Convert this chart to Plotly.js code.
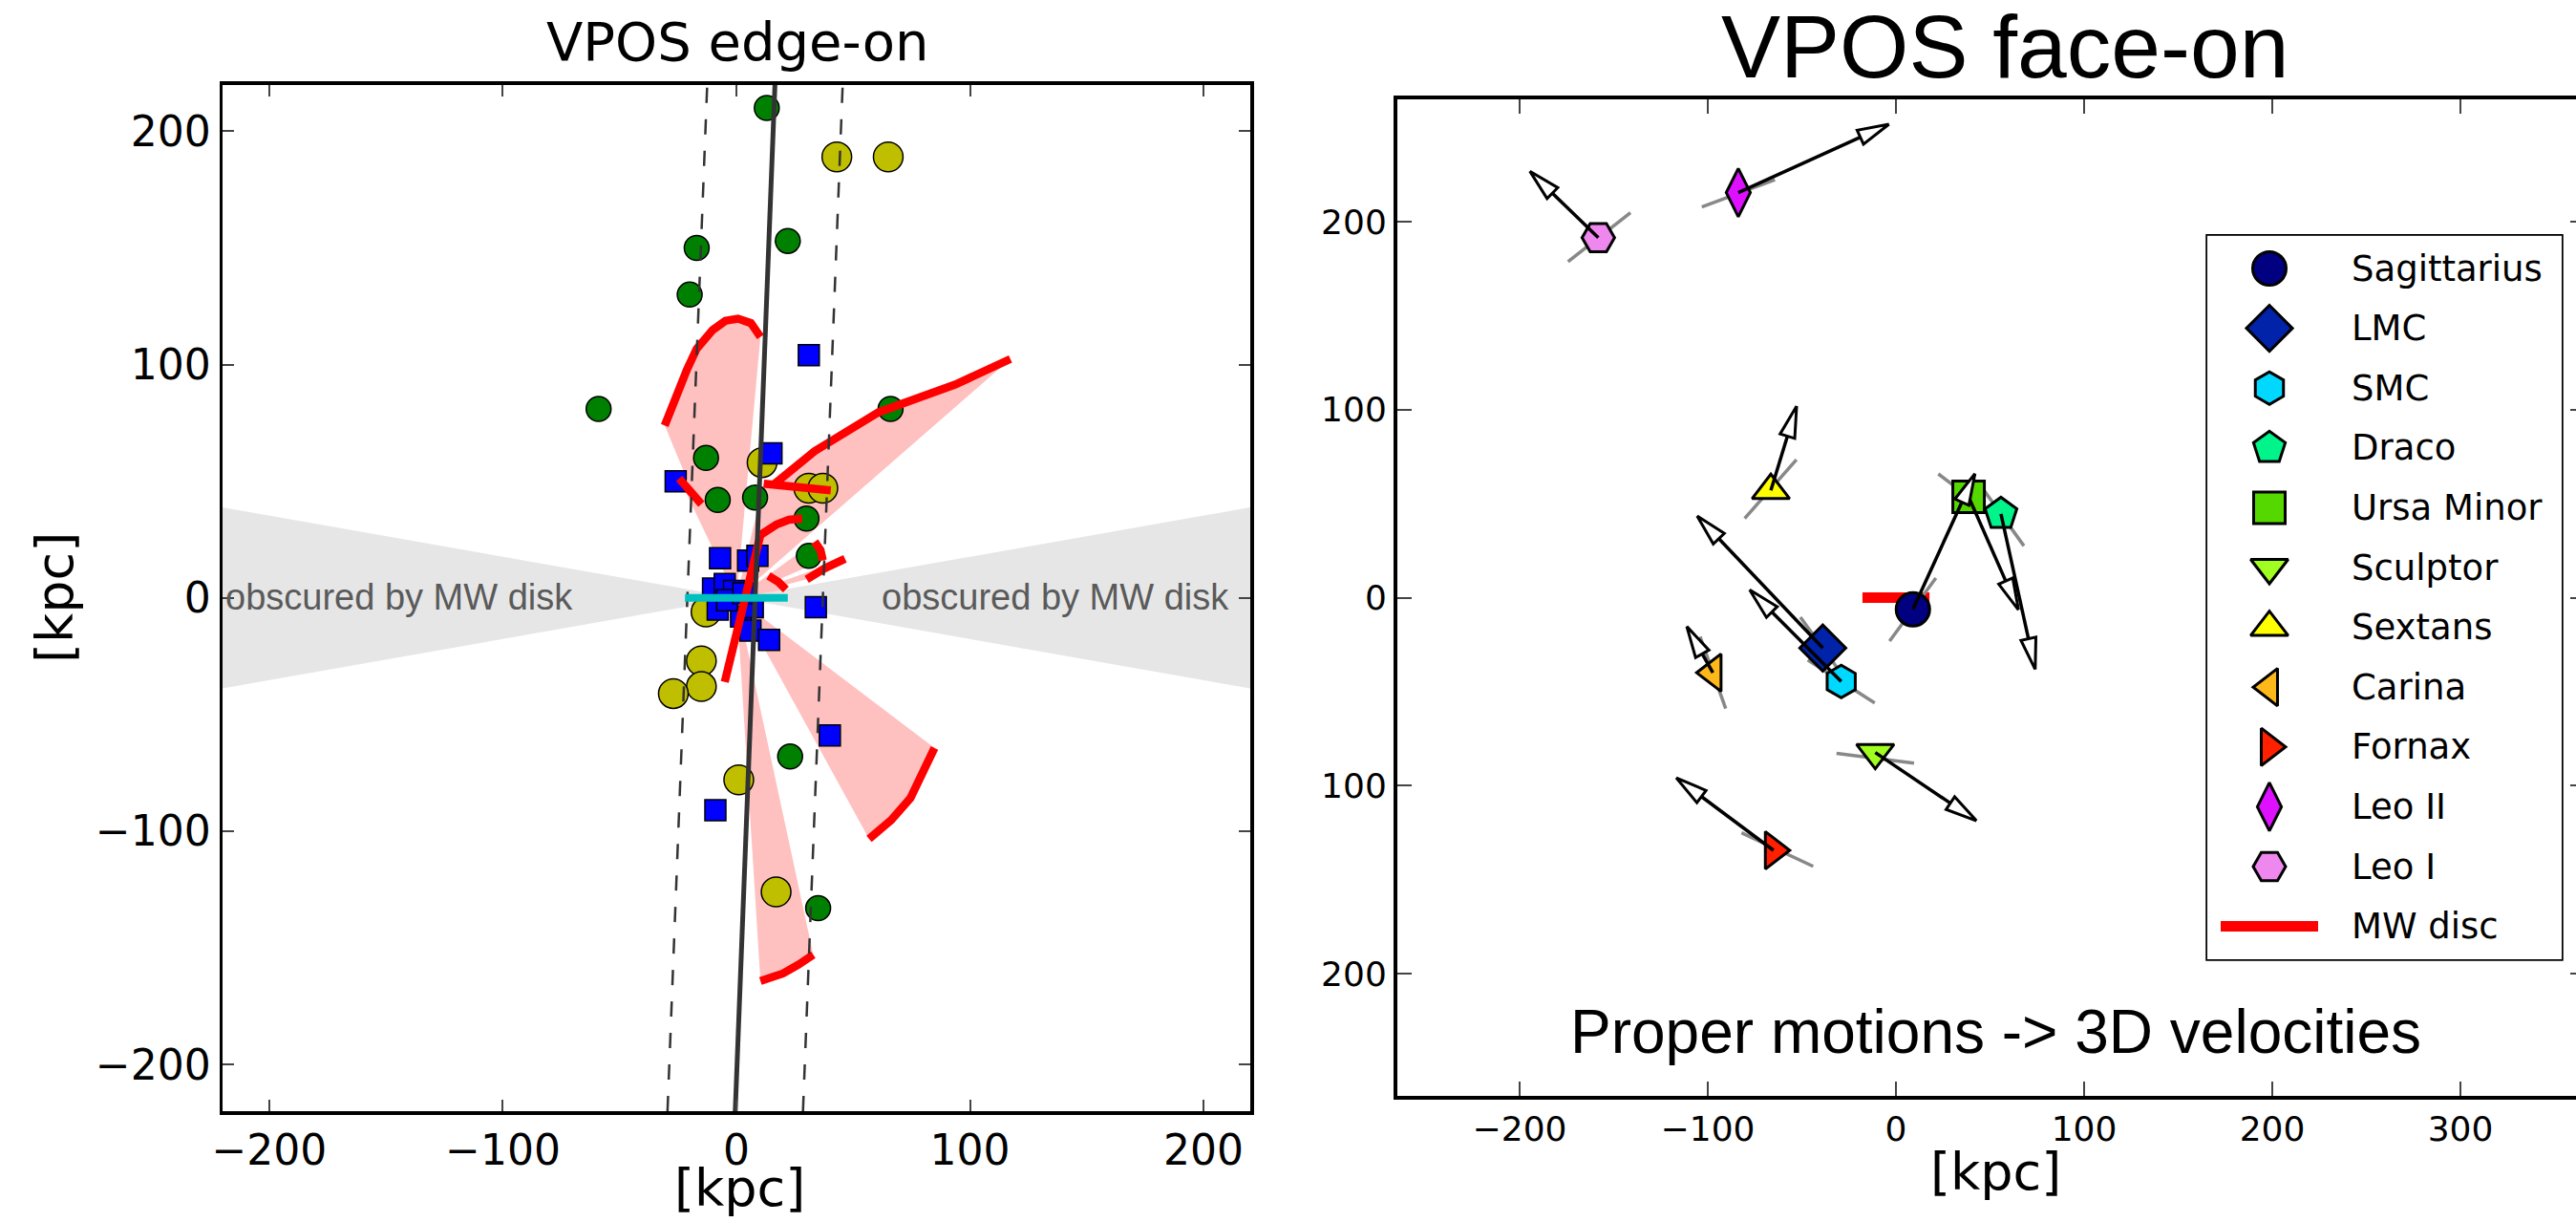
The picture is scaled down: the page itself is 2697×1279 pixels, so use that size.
<!DOCTYPE html>
<html><head><meta charset="utf-8">
<script src="https://cdn.plot.ly/plotly-3.0.1.min.js"></script>
<style>html,body{margin:0;padding:0;overflow:hidden;background:#fff;width:2697px;height:1279px}</style>
</head><body><div id="chart" style="width:2706px;height:1279px"></div>
<script>
// ================= DATA : left panel (VPOS edge-on), kpc =================
const greenX  = [13, -17, 22, -20, -59, 66, -13, -8, 8, 30, 31, 23, 35];
const greenY  = [210, 150, 153, 130, 81, 81, 60, 42, 43, 34, 18, -68, -133];
const yellowX = [43, 65, 11, 31, 37, -13, -15, -15, -27, 1, 17];
const yellowY = [189, 189, 58, 47, 47, -6, -27, -38, -41, -78, -126];
const blueX   = [31, 15, -26, -7, 5, 9, -10, -5, -1, -8, 2, 7, 6, 14, 34, 40, -9, -4, 3];
const blueY   = [104, 62, 50, 17, 16, 18, 4, 6, 3, -5, -8, -4, -14, -18, -4, -59, -91, -1, 2];

// best-fit plane (solid) and its rms width (dashed)
const planeX = [-0.5, 16.5];
const planeY = [-220, 220];
const planeRms = 29;

// MW disc edge-on
const discX = [-22, 22];
const discY = [0, 0];

// obscured zone half opening angle (deg)
const obscuredAngle = 10;

// uncertainty cones: red arcs (end of each cone), cone apex at origin
const arcAX = [-30.7, -25.9, -21.1, -17, -10.2, -4.7, 0.7, 6.2, 10.3];
const arcAY = [73.9, 87, 98, 106.8, 114.8, 118.8, 119.7, 117.8, 111.9];
const arcBX = [84.8, 80, 74.5, 66.3, 56.8];
const arcBY = [-64.3, -74.8, -85.8, -95.2, -103.3];
const arcCX = [10.3, 19.9, 26.7, 32.9];
const arcCY = [-164.2, -161, -157.1, -152.9];
const arcDX = [16.5, 33.5, 60.9, 93.6, 117.3];
const arcDY = [49, 62.9, 79.6, 91.4, 102.4];
const arcEX = [-24.5, -19.5, -15];
const arcEY = [51.2, 46, 40.2];
const arcFX = [11.7, 25, 40.4];
const arcFY = [49, 47.6, 46.1];
const arcGX = [10.3, 17.1, 22.5, 28.1];
const arcGY = [27, 31.4, 33.5, 34];
const arcHX = [33.5, 36, 37];
const arcHY = [24.1, 20.5, 16.1];
const arcIX = [30.1, 38, 46.5];
const arcIY = [8, 12.8, 16.8];
const arcJX = [13.7, 18, 21.2];
const arcJY = [9.5, 6.8, 3.6];
// red line seen edge-on (no cone)
const edgeLineX = [-5, 10.3];
const edgeLineY = [-36, 27];

// ================= DATA : right panel (VPOS face-on), kpc =================
const galaxies = ['Sagittarius', 'LMC', 'SMC', 'Draco', 'Ursa Minor', 'Sculptor', 'Sextans', 'Carina', 'Fornax', 'Leo II', 'Leo I'];
const galX   = [9, -38.9, -29.1, 55.8, 38.6, -11, -66.5, -97.3, -65.1, -83.8, -158.2];
const galY   = [-6.2, -26.8, -44.6, 44.5, 53.6, -82.4, 57, -39.9, -134.4, 215.4, 191.4];
const velTipX = [42, -105.7, -77.8, 74, 65.1, 42.8, -52.8, -111.2, -116.8, -3.7, -194.6];
const velTipY = [66, 43.5, 4.2, -38.2, -6.5, -118.7, 101.9, -15.3, -95.8, 251.8, 226.8];
const errX0 = [-3.4, -50.8, -46.9, 43.6, 22.5, -31.6, -80.4, -104.1, -82.1, -103.2, -174.3];
const errY0 = [-23.1, -10.4, -33.2, 61.5, 65.8, -82.8, 42.1, -20.8, -125.1, 207.8, 178.7];
const errX1 = [21.2, -27, -11.3, 68, 54.7, 9.6, -52.9, -90.5, -44, -64.3, -141.1];
const errY1 = [10.4, -43.2, -56, 27.5, 41.4, -88, 73.4, -59, -142.9, 222.2, 204.7];
const mwDiscFaceX = [-17.8, 17.8];
const mwDiscFaceY = [0, 0];
const xTicksR = [-200, -100, 0, 100, 200, 300];
const yTicksR = [-200, -100, 0, 100, 200];
const yTickTextR = ['200', '100', '0', '100', '200'];
const ticksL = [-200, -100, 0, 100, 200];

// ================= STYLE =================
const galSymbols = ['circle', 'diamond', 'hexagon', 'pentagon', 'square', 'triangle-down', 'triangle-up', 'triangle-left', 'triangle-right', 'diamond-tall', 'hexagon2'];
const galColors  = ['#000080', '#0023aa', '#00d8ff', '#00f48a', '#55d800', '#a0ff20', '#ffff00', '#ffb81a', '#ff2000', '#dd11ff', '#ee88ee'];
const galSizes   = [35, 37, 34, 35, 33, 34, 34, 34, 34, 36, 34];

const W = 2706, H = 1279;
const fx = v => v / W;
const fy = v => 1 - v / H;
const DJ = 'DejaVu Sans';
const LS = 'Liberation Sans, Arial, sans-serif';

const traces = [];

// ---- left panel ----
const t = Math.tan(obscuredAngle * Math.PI / 180);
const R = 220;
traces.push({x: [-R, 0, -R, null, R, 0, R], y: [R * t, 0, -R * t, null, R * t, 0, -R * t],
  mode: 'lines', fill: 'toself', fillcolor: '#e6e6e6', line: {width: 0}, xaxis: 'x', yaxis: 'y', hoverinfo: 'skip'});

const cones = [[arcAX, arcAY], [arcBX, arcBY], [arcCX, arcCY], [arcDX, arcDY], [arcEX, arcEY], [arcFX, arcFY], [arcGX, arcGY], [arcHX, arcHY], [arcIX, arcIY], [arcJX, arcJY]];
cones.forEach(([ax, ay]) => {
  traces.push({x: [0].concat(ax, [0]), y: [0].concat(ay, [0]), mode: 'lines', fill: 'toself',
    fillcolor: '#ffc0c0', line: {width: 0}, xaxis: 'x', yaxis: 'y', hoverinfo: 'skip'});
});

traces.push({x: yellowX, y: yellowY, mode: 'markers', xaxis: 'x', yaxis: 'y',
  marker: {symbol: 'circle', size: 31, opacity: 1, color: '#bfbf00', line: {color: '#000', width: 1.5}}});
traces.push({x: greenX, y: greenY, mode: 'markers', xaxis: 'x', yaxis: 'y',
  marker: {symbol: 'circle', size: 26, opacity: 1, color: '#008000', line: {color: '#000', width: 1.5}}});
traces.push({x: blueX, y: blueY, mode: 'markers', xaxis: 'x', yaxis: 'y',
  marker: {symbol: 'square', size: 22, opacity: 1, color: '#0000ff', line: {color: '#000', width: 1.5}}});

cones.forEach(([ax, ay]) => {
  traces.push({x: ax, y: ay, mode: 'lines', line: {color: '#ff0000', width: 8.5}, xaxis: 'x', yaxis: 'y', hoverinfo: 'skip'});
});
traces.push({x: edgeLineX, y: edgeLineY, mode: 'lines', line: {color: '#ff0000', width: 8.5}, xaxis: 'x', yaxis: 'y'});

traces.push({x: planeX.map(v => v - planeRms), y: planeY, mode: 'lines', xaxis: 'x', yaxis: 'y',
  line: {color: '#333', width: 2.5, dash: '16px,17px'}});
traces.push({x: planeX.map(v => v + planeRms), y: planeY, mode: 'lines', xaxis: 'x', yaxis: 'y',
  line: {color: '#333', width: 2.5, dash: '16px,17px'}});
traces.push({x: planeX, y: planeY, mode: 'lines', xaxis: 'x', yaxis: 'y', line: {color: '#333', width: 5}});
traces.push({x: discX, y: discY, mode: 'lines', xaxis: 'x', yaxis: 'y', line: {color: '#00bfbf', width: 8}});

// ---- right panel ----
traces.push({x: mwDiscFaceX, y: mwDiscFaceY, mode: 'lines', xaxis: 'x2', yaxis: 'y2', line: {color: '#ff0000', width: 11}});
const ex = [], ey = [];
galaxies.forEach((g, i) => { ex.push(errX0[i], errX1[i], null); ey.push(errY0[i], errY1[i], null); });
traces.push({x: ex, y: ey, mode: 'lines', xaxis: 'x2', yaxis: 'y2', line: {color: '#888', width: 3.5}});
traces.push({x: galX, y: galY, text: galaxies, mode: 'markers', xaxis: 'x2', yaxis: 'y2',
  marker: {symbol: galSymbols, color: galColors, size: galSizes, opacity: 1, line: {color: '#000', width: 3}}});

const pxPerKpc = 1.97;
const headL = 33 / pxPerKpc, headW = 8 / pxPerKpc;
const sx = [], sy = [], hx = [], hy = [];
galaxies.forEach((g, i) => {
  const x0 = galX[i], y0 = galY[i], x1 = velTipX[i], y1 = velTipY[i];
  const d = Math.hypot(x1 - x0, y1 - y0), ux = (x1 - x0) / d, uy = (y1 - y0) / d;
  const bx = x1 - headL * ux, by = y1 - headL * uy;
  sx.push(x0, bx, null); sy.push(y0, by, null);
  hx.push(x1, bx - headW * uy, bx + headW * uy, x1, null);
  hy.push(y1, by + headW * ux, by - headW * ux, y1, null);
});
traces.push({x: sx, y: sy, mode: 'lines', xaxis: 'x2', yaxis: 'y2', line: {color: '#000', width: 3.5}});
traces.push({x: hx, y: hy, mode: 'lines', fill: 'toself', fillcolor: '#fff', xaxis: 'x2', yaxis: 'y2',
  line: {color: '#000', width: 3}});

// ---- legend (drawn on its own axes) ----
const legTop = 246.8, legBottom = 1004, legLeft = 2311, legRight = 2682;
const rowFirst = 34.2, rowStep = 62.6, legMarkX = 65, legTextX = 149;
const rowY = galaxies.map((g, i) => rowFirst + i * rowStep);
traces.push({x: galaxies.map(() => legMarkX), y: rowY, mode: 'markers', xaxis: 'x3', yaxis: 'y3',
  marker: {symbol: galSymbols, color: galColors, size: galSizes, opacity: 1, line: {color: '#000', width: 3}}});
const discRow = rowFirst + galaxies.length * rowStep;
traces.push({x: [14, 116], y: [discRow, discRow], mode: 'lines', xaxis: 'x3', yaxis: 'y3', line: {color: '#ff0000', width: 11}});

const annotations = [
  {text: 'VPOS edge-on', x: fx(772), y: fy(44), xref: 'paper', yref: 'paper', showarrow: false, xanchor: 'center', yanchor: 'middle', font: {family: DJ, size: 56, color: '#000'}},
  {text: 'VPOS face-on', x: fx(2099), y: fy(49), xref: 'paper', yref: 'paper', showarrow: false, xanchor: 'center', yanchor: 'middle', font: {family: LS, size: 93, color: '#000'}},
  {text: 'Proper motions -&gt; 3D velocities', x: fx(2089), y: fy(1080), xref: 'paper', yref: 'paper', showarrow: false, xanchor: 'center', yanchor: 'middle', font: {family: LS, size: 64, color: '#000'}},
  {text: '[kpc]', x: fx(775), y: fy(1243), xref: 'paper', yref: 'paper', showarrow: false, xanchor: 'center', yanchor: 'middle', font: {family: DJ, size: 54, color: '#000'}},
  {text: '[kpc]', x: fx(57), y: fy(626), xref: 'paper', yref: 'paper', showarrow: false, textangle: -90, xanchor: 'center', yanchor: 'middle', font: {family: DJ, size: 54, color: '#000'}},
  {text: '[kpc]', x: fx(2089), y: fy(1226), xref: 'paper', yref: 'paper', showarrow: false, xanchor: 'center', yanchor: 'middle', font: {family: DJ, size: 54, color: '#000'}},
  {text: 'obscured by MW disk', x: -144.5, y: 0.5, xref: 'x', yref: 'y', showarrow: false, xanchor: 'center', yanchor: 'middle', font: {family: LS, size: 38, color: '#5a5a5a'}},
  {text: 'obscured by MW disk', x: 136.5, y: 0.5, xref: 'x', yref: 'y', showarrow: false, xanchor: 'center', yanchor: 'middle', font: {family: LS, size: 38, color: '#5a5a5a'}}
];
galaxies.concat(['MW disc']).forEach((g, i) => {
  annotations.push({text: g, x: legTextX, y: rowFirst + i * rowStep, xref: 'x3', yref: 'y3', showarrow: false,
    xanchor: 'left', yanchor: 'middle', font: {family: DJ, size: 37, color: '#000'}});
});

const axBase = {showline: true, linecolor: '#000', mirror: 'allticks', ticks: 'inside', tickcolor: '#444',
  tickwidth: 2, showgrid: false, zeroline: false, fixedrange: true};

const layout = {
  width: W, height: H, autosize: false, showlegend: false, hovermode: false,
  margin: {l: 0, r: 0, t: 0, b: 0, pad: 0},
  paper_bgcolor: '#fff', plot_bgcolor: '#fff',
  xaxis: Object.assign({}, axBase, {domain: [fx(233), fx(1309)], range: [-220, 220], anchor: 'y', linewidth: 3.5, ticklen: 12,
    tickvals: ticksL, tickfont: {family: DJ, size: 44, color: '#000'}}),
  yaxis: Object.assign({}, axBase, {domain: [fy(1163), fy(88.6)], range: [-220, 220], anchor: 'x', linewidth: 3.5, ticklen: 12,
    tickvals: ticksL, tickfont: {family: DJ, size: 44, color: '#000'}}),
  xaxis2: Object.assign({}, axBase, {domain: [fx(1463), 1], range: [-265, (W - 1985) / pxPerKpc], anchor: 'y2', linewidth: 4, ticklen: 15,
    tickvals: xTicksR, tickfont: {family: DJ, size: 36, color: '#000'}}),
  yaxis2: Object.assign({}, axBase, {domain: [fy(1147), fy(104)], range: [-265, 265], anchor: 'x2', linewidth: 4, ticklen: 15,
    tickvals: yTicksR, ticktext: yTickTextR, tickfont: {family: DJ, size: 36, color: '#000'}}),
  xaxis3: {domain: [fx(legLeft), fx(legRight)], range: [0, legRight - legLeft], anchor: 'y3', visible: false, fixedrange: true},
  yaxis3: {domain: [fy(legBottom), fy(legTop)], range: [legBottom - legTop, 0], anchor: 'x3', visible: false, fixedrange: true},
  shapes: [{type: 'rect', xref: 'paper', yref: 'paper', x0: fx(legLeft), x1: fx(legRight), y0: fy(legBottom), y1: fy(legTop),
    line: {color: '#000', width: 3.5}, fillcolor: '#fff', layer: 'below'}],
  annotations: annotations
};

Plotly.newPlot('chart', traces, layout, {staticPlot: true, displayModeBar: false});
</script>
</body></html>
